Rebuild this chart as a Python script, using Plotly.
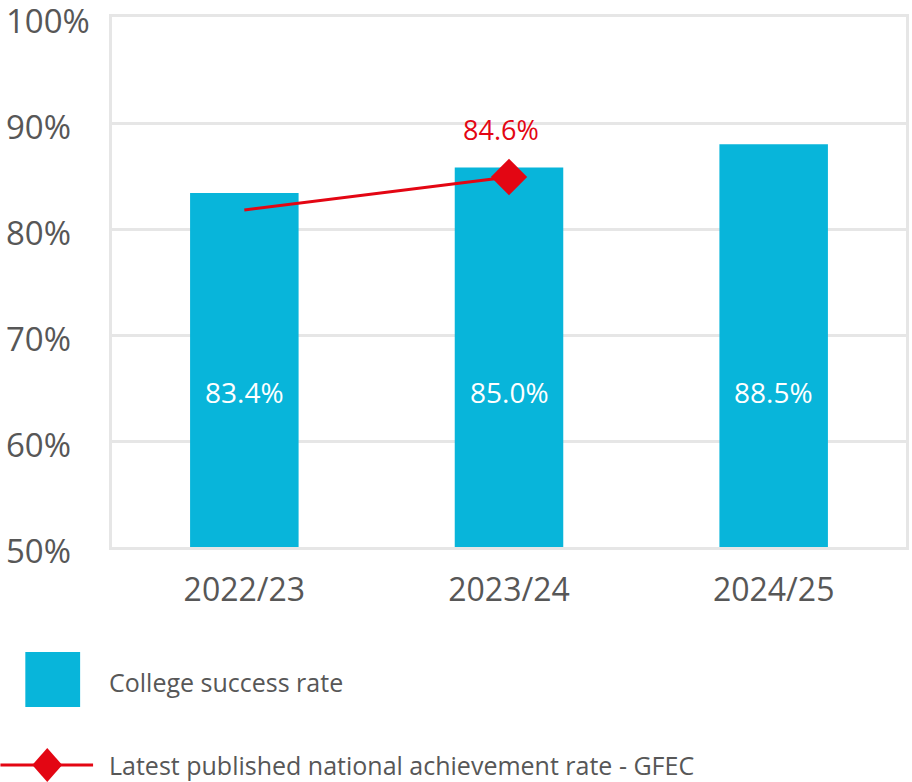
import plotly.graph_objects as go

# ---- data ----
categories = ["2022/23", "2023/24", "2024/25"]
college_rate = [83.4, 85.8, 88.0]            # bar heights as drawn
college_labels = ["83.4%", "85.0%", "88.5%"]  # labels printed on bars
national_cats = ["2022/23", "2023/24"]
national_rate = [81.8, 84.9]
national_label = "84.6%"
y_ticks = [50, 60, 70, 80, 90, 100]
y_tick_labels = ["50%", "60%", "70%", "80%", "90%", "100%"]

BAR_COLOR = "#08b5da"
RED = "#e30613"
GREY = "#575757"
GRID = "#e6e6e6"
FONT = "Open Sans"

W, H = 912, 782
L, R, T, B = 112, 3, 17, 235
PW, PH = W - L - R, H - T - B


def px(x):
    return (x - L) / PW


def py(y):
    return (H - B - y) / PH


LABEL_Y = 64.6  # vertical level of the in-bar labels

fig = go.Figure()
fig.add_trace(go.Bar(
    x=categories, y=college_rate, width=0.41,
    marker=dict(color=BAR_COLOR, line=dict(width=0)),
    name="College success rate", showlegend=False, hoverinfo="skip",
))
fig.add_trace(go.Scatter(
    x=national_cats, y=national_rate, mode="lines+markers",
    line=dict(color=RED, width=3),
    marker=dict(symbol="diamond", size=[0, 28], color=RED, opacity=1, line=dict(width=0)),
    name="Latest published national achievement rate - GFEC",
    showlegend=False, hoverinfo="skip",
))

annotations = []
for c, t in zip(categories, college_labels):
    annotations.append(dict(x=c, y=LABEL_Y, xref="x", yref="y", text=t,
                            showarrow=False, font=dict(family=FONT, size=28, color="white")))
annotations.append(dict(x=national_cats[-1], y=national_rate[-1], xref="x", yref="y",
                        text=national_label, showarrow=False, yshift=48, xshift=-8,
                        font=dict(family=FONT, size=27, color=RED)))
for v, t in zip(y_ticks, y_tick_labels):
    annotations.append(dict(x=px(4), y=v, xref="paper", yref="y", text=t,
                            xanchor="left", yanchor="middle", yshift=-3, showarrow=False,
                            font=dict(family=FONT, size=33, color=GREY)))
# legend texts
annotations.append(dict(x=px(107), y=py(682), xref="paper", yref="paper",
                        text="College success rate", xanchor="left", yanchor="middle",
                        showarrow=False, font=dict(family=FONT, size=25, color=GREY)))
annotations.append(dict(x=px(107), y=py(765), xref="paper", yref="paper",
                        text="Latest published national achievement rate - GFEC",
                        xanchor="left", yanchor="middle",
                        showarrow=False, font=dict(family=FONT, size=25, color=GREY)))

shapes = [
    dict(type="rect", xref="paper", yref="paper", x0=px(25), x1=px(80),
         y0=py(707), y1=py(652), fillcolor=BAR_COLOR, line=dict(width=0)),
    dict(type="line", xref="paper", yref="paper", x0=px(0), x1=px(93),
         y0=py(765), y1=py(765), line=dict(color=RED, width=3)),
]
cx, cy = 47, 765
dpath = "M {},{} L {},{} L {},{} L {},{} Z".format(
    px(cx - 15), py(cy), px(cx), py(cy - 17), px(cx + 15), py(cy), px(cx), py(cy + 17))
shapes.append(dict(type="path", xref="paper", yref="paper", path=dpath,
                   fillcolor=RED, line=dict(width=0)))

fig.update_layout(
    width=W, height=H,
    margin=dict(l=L, r=R, t=T, b=B, pad=0),
    paper_bgcolor="white", plot_bgcolor="white",
    font=dict(family=FONT, color=GREY),
    showlegend=False,
    annotations=annotations, shapes=shapes,
    xaxis=dict(
        type="category", range=[-0.5, 2.5],
        showline=True, mirror=True, linecolor=GRID, linewidth=3,
        showgrid=False, ticks="", ticklabelstandoff=13,
        tickfont=dict(family=FONT, size=32, color=GREY),
    ),
    yaxis=dict(
        range=[50, 100], tickvals=y_ticks, showticklabels=False,
        showline=True, mirror=True, linecolor=GRID, linewidth=3,
        showgrid=True, gridcolor=GRID, gridwidth=3, zeroline=False, ticks="",
    ),
)

fig.write_html(
    "out.html",
    config={"displayModeBar": False},
    post_script="document.body.style.margin='0';document.body.style.overflow='hidden';",
)
